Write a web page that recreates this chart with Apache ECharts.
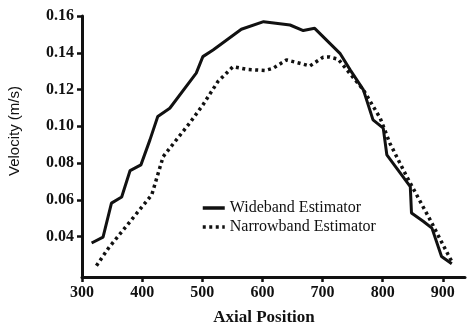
<!DOCTYPE html>
<html>
<head>
<meta charset="utf-8">
<script src="https://cdn.jsdelivr.net/npm/echarts@6/dist/echarts.min.js"></script>
<style>html,body{margin:0;padding:0;background:#fff}#c{width:467px;height:329px}</style>
</head>
<body>
<div id="c"></div>
<script>
var xTicks = [300, 400, 500, 600, 700, 800, 900];
var yTicks = [0.04, 0.06, 0.08, 0.10, 0.12, 0.14, 0.16];
var wideX = [316, 335, 349, 366, 380, 398, 413, 426, 446, 490, 501, 518, 565, 602, 646, 668, 687, 729, 746, 768, 784, 801, 807, 846, 848, 868, 882, 898, 915];
var wideV = [0.0365, 0.0397, 0.0582, 0.0615, 0.0759, 0.079, 0.0926, 0.1053, 0.1098, 0.1289, 0.1379, 0.1415, 0.1528, 0.1569, 0.1551, 0.1521, 0.1533, 0.1397, 0.1307, 0.1198, 0.1035, 0.099, 0.0845, 0.0672, 0.0528, 0.0482, 0.0446, 0.0292, 0.0252];
var narrowX = [324, 344, 416, 435, 446, 479, 501, 526, 551, 574, 604, 618, 640, 662, 679, 701, 712, 726, 768, 796, 812, 840, 879, 909, 917];
var narrowV = [0.0241, 0.0337, 0.0627, 0.0835, 0.0881, 0.1017, 0.1116, 0.1243, 0.1324, 0.131, 0.1303, 0.1316, 0.1361, 0.1343, 0.1328, 0.1376, 0.1377, 0.1365, 0.1198, 0.1044, 0.0908, 0.0727, 0.0491, 0.0301, 0.0252];
var names = ['Wideband Estimator', 'Narrowband Estimator'];

function pairs(xs, ys) { return xs.map(function (x, i) { return [x, ys[i]]; }); }

var chart = echarts.init(document.getElementById('c'), null, {renderer: 'canvas'});
var ink = '#111';
chart.setOption({
  animation: false,
  backgroundColor: '#fff',
  grid: {left: 82, right: 2, top: 16, bottom: 52, containLabel: false},
  xAxis: {
    type: 'value', min: 300, max: 937,
    axisLine: {lineStyle: {color: ink, width: 3}},
    axisTick: {show: true, length: 5, lineStyle: {color: ink, width: 2.5}, customValues: xTicks},
    axisLabel: {customValues: xTicks, color: ink, fontFamily: 'Liberation Serif', fontWeight: 'bold', fontSize: 16, margin: 8},
    splitLine: {show: false}
  },
  yAxis: {
    type: 'value', min: 0.018, max: 0.16,
    axisLine: {show: true, lineStyle: {color: ink, width: 3}},
    axisTick: {show: true, length: 5, lineStyle: {color: ink, width: 2.5}, customValues: yTicks},
    axisLabel: {customValues: yTicks, color: ink, fontFamily: 'Liberation Serif', fontWeight: 'bold', fontSize: 16, margin: 8,
      formatter: function (v) { return v.toFixed(2); }},
    splitLine: {show: false}
  },
  legend: {
    orient: 'vertical', left: 196, top: 195, itemWidth: 22, itemHeight: 14, itemGap: 3,
    itemStyle: {opacity: 0},
    lineStyle: {width: 3.5},
    textStyle: {fontFamily: 'Liberation Serif', fontSize: 16, color: ink},
    data: names
  },
  graphic: [
    {type: 'text', style: {text: 'Velocity (m/s)', font: '15px "Liberation Sans"', fill: ink, textAlign: 'center', textVerticalAlign: 'middle'},
      x: 15, y: 131, rotation: Math.PI / 2},
    {type: 'text', style: {text: 'Axial Position', font: 'bold 17px "Liberation Serif"', fill: ink, textAlign: 'center', textVerticalAlign: 'middle'},
      x: 264, y: 318}
  ],
  series: [
    {name: names[0], type: 'line', symbol: 'none', data: pairs(wideX, wideV),
      lineStyle: {color: ink, width: 3}, itemStyle: {color: ink}},
    {name: names[1], type: 'line', symbol: 'none', data: pairs(narrowX, narrowV),
      lineStyle: {color: ink, width: 3.5, type: [3, 3.5]}, itemStyle: {color: ink}}
  ]
});
</script>
</body>
</html>
